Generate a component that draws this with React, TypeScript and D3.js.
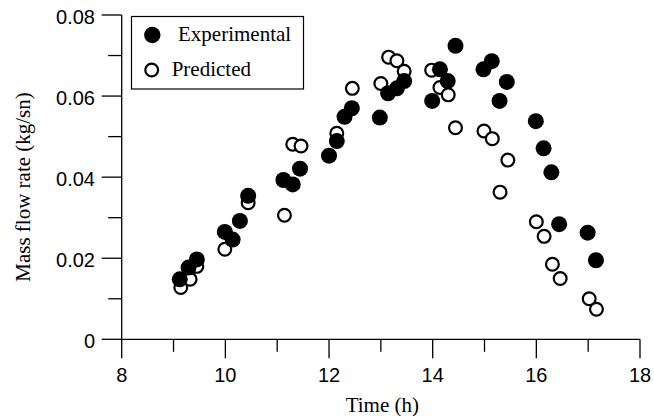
import { useEffect, useRef } from "react";
import * as d3 from "d3";

// time (h) and mass flow rate (kg/sn)
const expTime = [9.12, 9.29, 9.45, 9.99, 10.14, 10.28, 10.44, 11.12, 11.3, 11.44, 12.0, 12.15, 12.3, 12.44, 12.98, 13.14, 13.31, 13.45, 13.99, 14.14, 14.29, 14.44, 14.98, 15.14, 15.29, 15.43, 15.99, 16.14, 16.29, 16.44, 16.99, 17.15];
const expFlow = [0.0148, 0.0177, 0.0197, 0.0265, 0.0246, 0.0292, 0.0354, 0.0393, 0.0382, 0.0421, 0.0453, 0.0489, 0.0549, 0.057, 0.0547, 0.0607, 0.0619, 0.0637, 0.0588, 0.0666, 0.0637, 0.0724, 0.0666, 0.0686, 0.0588, 0.0635, 0.0538, 0.0471, 0.0412, 0.0284, 0.0263, 0.0195];

const predTime = [9.14, 9.32, 9.45, 9.99, 10.44, 11.14, 11.3, 11.46, 12.15, 12.45, 13.0, 13.15, 13.31, 13.45, 13.98, 14.14, 14.3, 14.44, 14.99, 15.15, 15.3, 15.45, 16.0, 16.15, 16.31, 16.46, 17.02, 17.16];
const predFlow = [0.0128, 0.0148, 0.018, 0.0222, 0.0337, 0.0306, 0.0481, 0.0477, 0.0508, 0.0619, 0.0631, 0.0696, 0.0687, 0.0661, 0.0664, 0.0621, 0.0603, 0.0522, 0.0514, 0.0495, 0.0363, 0.0442, 0.029, 0.0254, 0.0185, 0.015, 0.01, 0.0074];

const xMajor = [8, 10, 12, 14, 16, 18];
const xMinor = [9, 11, 13, 15, 17];
const yMajor = [0, 0.02, 0.04, 0.06, 0.08];
const yMinor = [0.01, 0.03, 0.05, 0.07];
const yLabels = ["0", "0.02", "0.04", "0.06", "0.08"];

const seriesNames = ["Experimental", "Predicted"];

const W = 654;
const H = 416;

export default function App() {
  const svgRef = useRef<SVGSVGElement>(null);

  useEffect(() => {
    const svg = d3.select(svgRef.current);
    svg.selectAll("*").remove();

    const x = d3.scaleLinear().domain([8, 18]).range([121.7, 640]);
    const y = d3.scaleLinear().domain([0, 0.08]).range([339.3, 15]);
    const serif = "'Liberation Serif', 'Times New Roman', serif";
    const sans = "'Liberation Sans', Arial, sans-serif";
    const axisW = 1.3;

    // axes lines
    const g = svg.append("g").attr("stroke", "#000").attr("stroke-width", axisW);
    g.append("line").attr("x1", x(8)).attr("x2", x(18)).attr("y1", y(0)).attr("y2", y(0));
    g.append("line").attr("x1", x(8)).attr("x2", x(8)).attr("y1", y(0)).attr("y2", y(0.08));

    // x ticks
    g.selectAll(".xmaj").data(xMajor).join("line")
      .attr("x1", (d) => x(d)).attr("x2", (d) => x(d))
      .attr("y1", y(0)).attr("y2", y(0) + 19);
    g.selectAll(".xmin").data(xMinor).join("line")
      .attr("x1", (d) => x(d)).attr("x2", (d) => x(d))
      .attr("y1", y(0)).attr("y2", y(0) + 12.5);

    // y ticks
    g.selectAll(".ymaj").data(yMajor).join("line")
      .attr("x1", x(8) - 20).attr("x2", x(8))
      .attr("y1", (d) => y(d)).attr("y2", (d) => y(d));
    g.selectAll(".ymin").data(yMinor).join("line")
      .attr("x1", x(8) - 13.5).attr("x2", x(8))
      .attr("y1", (d) => y(d)).attr("y2", (d) => y(d));

    // tick labels
    svg.append("g").selectAll("text").data(xMajor).join("text")
      .attr("x", (d) => x(d)).attr("y", y(0) + 42.4)
      .attr("text-anchor", "middle")
      .attr("font-family", sans).attr("font-size", 20)
      .text((d) => String(d));
    svg.append("g").selectAll("text").data(yMajor).join("text")
      .attr("x", 95).attr("y", (d) => y(d) + 9)
      .attr("text-anchor", "end")
      .attr("font-family", sans).attr("font-size", 20)
      .text((d, i) => yLabels[i]);

    // axis titles
    svg.append("text")
      .attr("x", (x(8) + x(18)) / 2 + 1.5).attr("y", 411.7)
      .attr("text-anchor", "middle")
      .attr("font-family", serif).attr("font-size", 21)
      .text("Time (h)");
    svg.append("text")
      .attr("transform", "translate(30,187) rotate(-90)")
      .attr("text-anchor", "middle")
      .attr("font-family", serif).attr("font-size", 21)
      .text("Mass flow rate (kg/sn)");

    // predicted (open) under experimental (filled)
    svg.append("g").selectAll("circle").data(predTime).join("circle")
      .attr("cx", (d) => x(d)).attr("cy", (d, i) => y(predFlow[i]))
      .attr("r", 6.4)
      .attr("fill", "#fff").attr("stroke", "#000").attr("stroke-width", 2.2);
    svg.append("g").selectAll("circle").data(expTime).join("circle")
      .attr("cx", (d) => x(d)).attr("cy", (d, i) => y(expFlow[i]))
      .attr("r", 8)
      .attr("fill", "#000");

    // legend
    const lg = svg.append("g");
    lg.append("rect")
      .attr("x", 131.5).attr("y", 16.5).attr("width", 172).attr("height", 72.5)
      .attr("fill", "#fff").attr("stroke", "#000").attr("stroke-width", 1.2);
    lg.append("circle").attr("cx", 152.3).attr("cy", 35).attr("r", 8.2).attr("fill", "#000");
    lg.append("circle").attr("cx", 151.7).attr("cy", 70).attr("r", 6.4)
      .attr("fill", "#fff").attr("stroke", "#000").attr("stroke-width", 2.2);
    lg.append("text").attr("x", 178).attr("y", 41)
      .attr("font-family", serif).attr("font-size", 21).text(seriesNames[0]);
    lg.append("text").attr("x", 171.7).attr("y", 75.5)
      .attr("font-family", serif).attr("font-size", 21).text(seriesNames[1]);
  }, []);

  return (
    <svg
      ref={svgRef}
      width={W}
      height={H}
      style={{ position: "absolute", left: 0, top: 0, background: "#fff" }}
    />
  );
}
